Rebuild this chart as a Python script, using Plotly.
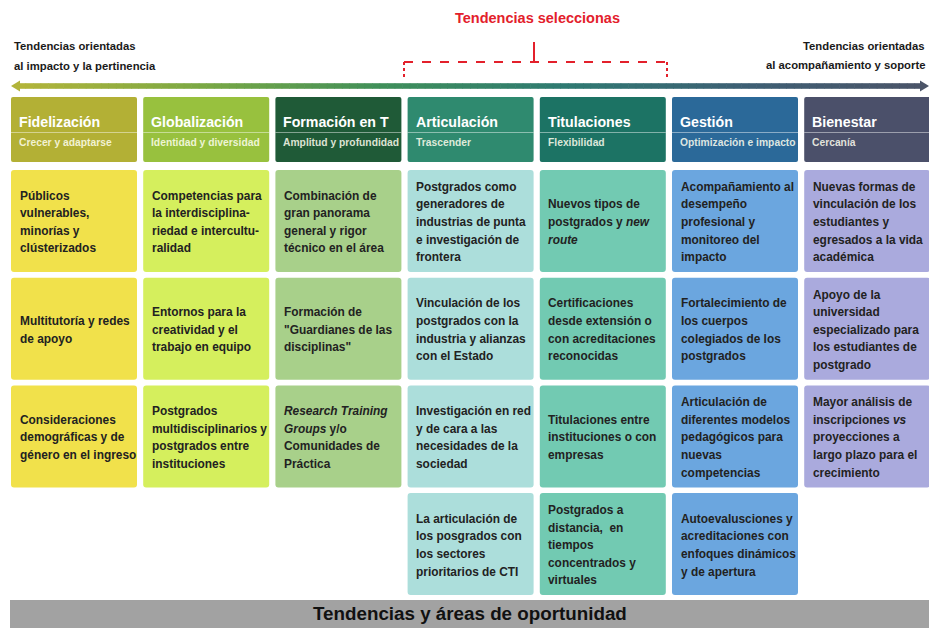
import plotly.graph_objects as go

# ---------------- data ----------------
categories = ["Fidelización", "Globalización", "Formación en T", "Articulación",
              "Titulaciones", "Gestión", "Bienestar"]
subtitles = ["Crecer y adaptarse", "Identidad y diversidad", "Amplitud y profundidad",
             "Trascender", "Flexibilidad", "Optimización e impacto", "Cercanía"]
header_colors = ["#b3b035", "#98c13e", "#1f5a37", "#2f8a6f", "#1c7364", "#2b6999", "#4b506a"]
cell_colors = ["#f1e14b", "#d5ef5d", "#a8d08a", "#acdedb", "#72cab2", "#6ba6df", "#aaaadd"]

col_fidelizacion = ["Públicos<br>vulnerables,<br>minorías y<br>clústerizados",
                    "Multitutoría y redes<br>de apoyo",
                    "Consideraciones<br>demográficas y de<br>género en el ingreso"]
col_globalizacion = ["Competencias para<br>la interdisciplina-<br>riedad e intercultu-<br>ralidad",
                     "Entornos para la<br>creatividad y el<br>trabajo en equipo",
                     "Postgrados<br>multidisciplinarios y<br>postgrados entre<br>instituciones"]
col_formacion = ["Combinación de<br>gran panorama<br>general y rigor<br>técnico en el área",
                 "Formación de<br>\"Guardianes de las<br>disciplinas\"",
                 "<i>Research Training</i><br><i>Groups</i> y/o<br>Comunidades de<br>Práctica"]
col_articulacion = ["Postgrados como<br>generadores de<br>industrias de punta<br>e investigación de<br>frontera",
                    "Vinculación de los<br>postgrados con la<br>industria y alianzas<br>con el Estado",
                    "Investigación en red<br>y de cara a las<br>necesidades de la<br>sociedad",
                    "La articulación de<br>los posgrados con<br>los sectores<br>prioritarios de CTI"]
col_titulaciones = ["Nuevos tipos de<br>postgrados y <i>new</i><br><i>route</i>",
                    "Certificaciones<br>desde extensión o<br>con acreditaciones<br>reconocidas",
                    "Titulaciones entre<br>instituciones o con<br>empresas",
                    "Postgrados a<br>distancia,  en<br>tiempos<br>concentrados y<br>virtuales"]
col_gestion = ["Acompañamiento al<br>desempeño<br>profesional y<br>monitoreo del<br>impacto",
               "Fortalecimiento de<br>los cuerpos<br>colegiados de los<br>postgrados",
               "Articulación de<br>diferentes modelos<br>pedagógicos para<br>nuevas<br>competencias",
               "Autoevalusciones y<br>acreditaciones con<br>enfoques dinámicos<br>y de apertura"]
col_bienestar = ["Nuevas formas de<br>vinculación de los<br>estudiantes y<br>egresados a la vida<br>académica",
                 "Apoyo de la<br>universidad<br>especializado para<br>los estudiantes de<br>postgrado",
                 "Mayor análisis de<br>inscripciones <i>vs</i><br>proyecciones a<br>largo plazo para el<br>crecimiento"]
columns = [col_fidelizacion, col_globalizacion, col_formacion, col_articulacion,
           col_titulaciones, col_gestion, col_bienestar]

top_title = "Tendencias seleccionas"
left_label = ["Tendencias orientadas", "al impacto y la pertinencia"]
right_label = ["Tendencias orientadas", "al acompañamiento y soporte"]
bottom_title = "Tendencias y áreas de oportunidad"

# ---------------- layout helpers ----------------
W, H = 929, 628
FONT = "Liberation Sans, Arial, sans-serif"
col_x0, col_step, col_w = 11, 132.2, 126
head_y0, head_y1 = 97, 162
row_y0, row_step, row_h = 170, 107.7, 102
line_gap = 17.6

def rrect(x0, y0, x1, y1, r):
    return (f"M{x0+r},{y0} L{x1-r},{y0} Q{x1},{y0} {x1},{y0+r} L{x1},{y1-r} "
            f"Q{x1},{y1} {x1-r},{y1} L{x0+r},{y1} Q{x0},{y1} {x0},{y1-r} "
            f"L{x0},{y0+r} Q{x0},{y0} {x0+r},{y0} Z")

def hex2rgb(h):
    h = h.lstrip("#")
    return [int(h[i:i+2], 16) for i in (0, 2, 4)]

shapes, annotations = [], []

# gradient arrow
grad = ["#b2b43a", "#7aa844", "#3f8f5a", "#2f7a72", "#3e5f74", "#4b5468"]
ax0, ax1, ay = 18, 922, 86
nseg = 120
for k in range(nseg):
    t = k / nseg
    pos = t * (len(grad) - 1)
    i = min(int(pos), len(grad) - 2)
    f = pos - i
    c0, c1 = hex2rgb(grad[i]), hex2rgb(grad[i + 1])
    c = [round(c0[j] + (c1[j] - c0[j]) * f) for j in range(3)]
    xa = ax0 + (ax1 - ax0) * k / nseg
    xb = ax0 + (ax1 - ax0) * (k + 1) / nseg + 0.6
    shapes.append(dict(type="rect", x0=xa, x1=xb, y0=ay - 2.8, y1=ay + 2.8,
                       fillcolor=f"rgb({c[0]},{c[1]},{c[2]})", line_width=0, layer="below"))
shapes.append(dict(type="path", path=f"M{ax0+2},{ay-5.5} L{ax0-7},{ay} L{ax0+2},{ay+5.5} Z",
                   fillcolor=grad[0], line_width=0))
shapes.append(dict(type="path", path=f"M{ax1-2},{ay-5.5} L{ax1+7},{ay} L{ax1-2},{ay+5.5} Z",
                   fillcolor=grad[-1], line_width=0))

# red dashed bracket
red = "#e3202b"
bx0, bx1, by = 404, 667, 62
shapes.append(dict(type="line", x0=bx0, x1=bx1, y0=by, y1=by, line=dict(color=red, width=2, dash="dash")))
shapes.append(dict(type="line", x0=bx0, x1=bx0, y0=by, y1=79, line=dict(color=red, width=2, dash="dot")))
shapes.append(dict(type="line", x0=bx1, x1=bx1, y0=by, y1=79, line=dict(color=red, width=2, dash="dot")))
shapes.append(dict(type="line", x0=534, x1=534, y0=by, y1=42, line=dict(color=red, width=2)))
annotations.append(dict(x=537, y=18, text=f"<b>{top_title}</b>", showarrow=False,
                        xanchor="center", yanchor="middle",
                        font=dict(family=FONT, size=14.5, color=red)))

# side labels
for txt, yy in zip(left_label, [46, 66]):
    annotations.append(dict(x=12, y=yy, text=f"<b>{txt}</b>", showarrow=False,
                            xanchor="left", yanchor="middle",
                            font=dict(family=FONT, size=11.3, color="#1a1a1a")))
for txt, yy in zip(right_label, [46, 65]):
    annotations.append(dict(x=927, y=yy, text=f"<b>{txt}</b>", showarrow=False,
                            xanchor="right", yanchor="middle",
                            font=dict(family=FONT, size=11.3, color="#1a1a1a")))

# columns
for c, (name, sub, hc, cc, cells) in enumerate(zip(categories, subtitles, header_colors,
                                                   cell_colors, columns)):
    x0 = col_x0 + c * col_step
    x1 = x0 + col_w
    shapes.append(dict(type="path", path=rrect(x0, head_y0, x1, head_y1, 2),
                       fillcolor=hc, line_width=0))
    shapes.append(dict(type="line", x0=x0, x1=x1, y0=132.5, y1=132.5,
                       line=dict(color="rgba(255,255,255,0.45)", width=1)))
    annotations.append(dict(x=x0 + 6, y=122, text=f"<b>{name}</b>", showarrow=False,
                            xanchor="left", yanchor="middle",
                            font=dict(family=FONT, size=14.2, color="white")))
    annotations.append(dict(x=x0 + 6, y=142.5, text=f"<b>{sub}</b>", showarrow=False,
                            xanchor="left", yanchor="middle",
                            font=dict(family=FONT, size=10.3, color="rgba(255,255,240,0.85)")))
    for r, txt in enumerate(cells):
        y0 = row_y0 + r * row_step
        y1 = y0 + row_h
        shapes.append(dict(type="path", path=rrect(x0, y0, x1, y1, 3),
                           fillcolor=cc, line_width=0))
        lines = txt.split("<br>")
        yc = (y0 + y1) / 2 + 1
        for k, ln in enumerate(lines):
            yy = yc + (k - (len(lines) - 1) / 2) * line_gap
            annotations.append(dict(x=x0 + 6.5, y=yy, text=f"<b>{ln}</b>", showarrow=False,
                                    xanchor="left", yanchor="middle",
                                    font=dict(family=FONT, size=11.9, color="#222222")))

# bottom bar
shapes.append(dict(type="rect", x0=10, x1=W + 2, y0=600, y1=H + 2,
                   fillcolor="#a2a2a2", line_width=0))
annotations.append(dict(x=470, y=613, text=f"<b>{bottom_title}</b>", showarrow=False,
                        xanchor="center", yanchor="middle",
                        font=dict(family=FONT, size=18.8, color="#111111")))

fig = go.Figure(go.Scatter(x=[], y=[], mode="markers", showlegend=False, hoverinfo="skip"))
fig.update_layout(
    width=W, height=H, margin=dict(l=0, r=0, t=0, b=0),
    paper_bgcolor="white", plot_bgcolor="white",
    xaxis=dict(range=[0, W], visible=False, fixedrange=True),
    yaxis=dict(range=[H, 0], visible=False, fixedrange=True),
    shapes=shapes, annotations=annotations, showlegend=False,
)
fig.write_html("out.html", config={"displayModeBar": False},
               post_script="document.body.style.margin='0';document.body.style.overflow='hidden';")
